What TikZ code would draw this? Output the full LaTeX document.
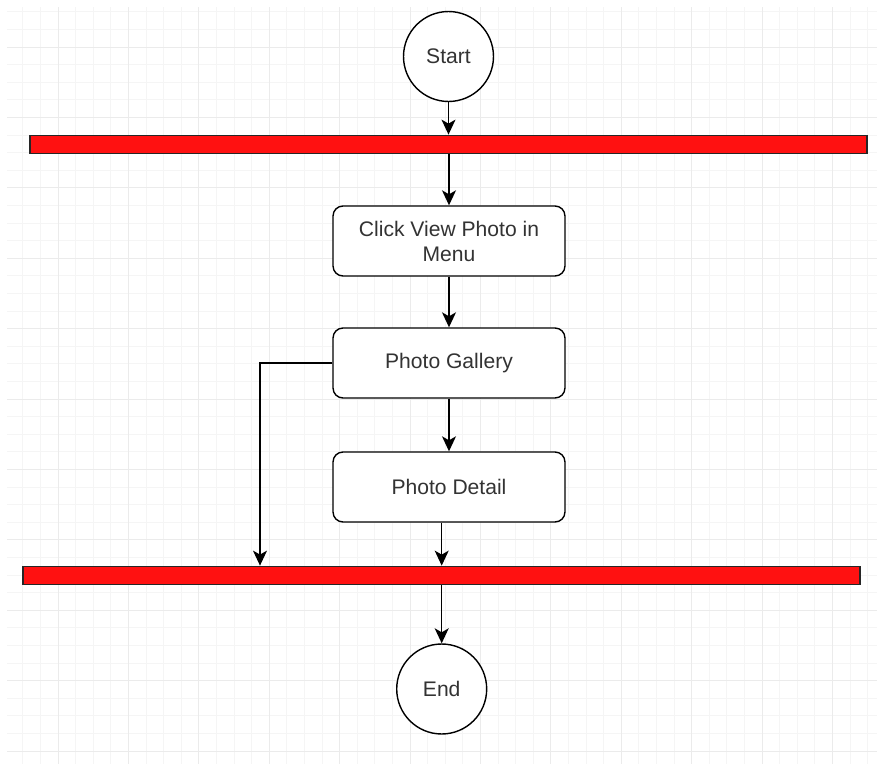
\documentclass[tikz,border=0pt]{standalone}
\usepackage{fontspec}
\setmainfont{Liberation Sans}
\usetikzlibrary{arrows.meta}
\usetikzlibrary{positioning}

\definecolor{barred}{HTML}{FF1111}
\tikzset{
  activity/.style={draw=black,line width=0.8pt,rounded corners=0.2cm,fill=white,minimum width=4.64cm,minimum height=1.4cm,align=center,font=\fontsize{12}{14.2}\selectfont,text=black!80},
  terminal/.style={circle,draw=black,line width=0.8pt,fill=white,minimum size=1.8cm,inner sep=0pt,font=\fontsize{12}{14.2}\selectfont,text=black!80},
  forkbar/.style={draw=black!85,line width=1pt,fill=barred,minimum width=16.74cm,minimum height=0.36cm,inner sep=0pt},
  flow/.style={draw=black,line width=0.8pt,-{Stealth[length=0.3cm,width=0.28cm,inset=0.08cm]}},
  gridminor/.style={black!4,line width=0.4pt},
  gridmajor/.style={black!8,line width=0.4pt}
}

\begin{document}
\begin{tikzpicture}[x=0.02cm,y=-0.02cm]
\useasboundingbox (0,0) rectangle (877,764);
\fill[white] (0,0) rectangle (877,764);
% grid
\foreach \i in {0,...,48} \draw[gridminor] ({22.7+17.6*\i},7) -- ({22.7+17.6*\i},764);
\foreach \j in {0,...,42} \draw[gridminor] (7,{11.7+17.6*\j}) -- (877,{11.7+17.6*\j});
\foreach \i in {2,6,...,46} \draw[gridmajor] ({22.7+17.6*\i},7) -- ({22.7+17.6*\i},764);
\foreach \j in {2,6,...,42} \draw[gridmajor] (7,{11.7+17.6*\j}) -- (877,{11.7+17.6*\j});

\node[terminal] (start) at (448.5,56.5) {Start};
\node[forkbar] (fork) at (448.5,144.5) {};
\node[activity] (menu) at (449,241) {Click View Photo in\\Menu};
\node[activity] (gallery) at (449,363) {Photo Gallery};
\node[activity] (detail) at (449,487) {Photo Detail};
\node[forkbar] (join) at (441.5,575.5) {};
\node[terminal] (end) at (441.7,689) {End};
\coordinate (galleryjoin) at (260,575.5);

\draw[flow] (start) -- (fork);
\draw[flow] (fork.south -| menu) -- (menu);
\draw[flow] (menu) -- (gallery);
\draw[flow] (gallery) -- (detail);
\draw[flow] (gallery.west) -| (galleryjoin |- join.north);
\draw[flow] (detail.south -| end) -- (join.north -| end);
\draw[flow] (join.south -| end) -- (end);
\end{tikzpicture}
\end{document}
